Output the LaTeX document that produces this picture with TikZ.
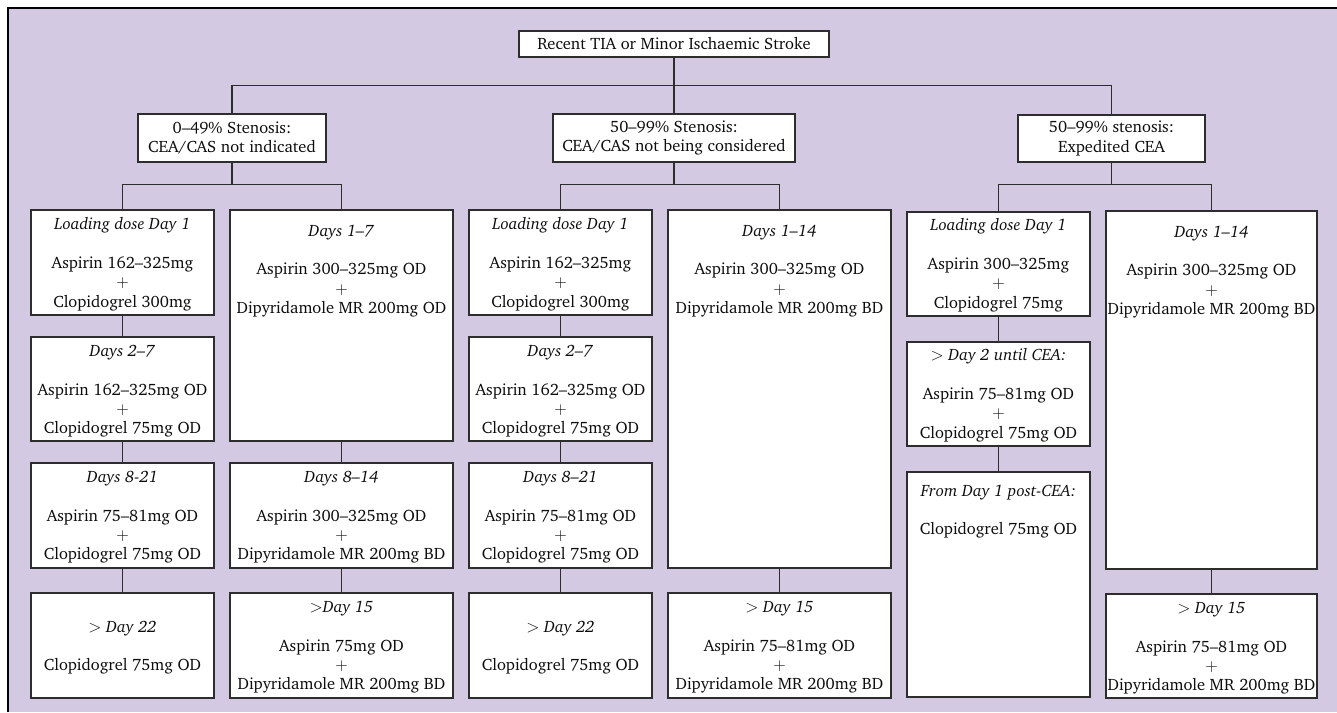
\documentclass[tikz,border=0pt]{standalone}
\usepackage[T1]{fontenc}
\usepackage{charter}
\definecolor{lav}{RGB}{211,201,227}
\definecolor{ink}{RGB}{45,45,45}
\tikzset{
  bx/.style={draw=ink, fill=white, line width=1.4pt, inner sep=0pt,
    font=\fontsize{16.5}{19.4}\selectfont, text=black!95},
  conn/.style={draw=ink, line width=1.4pt},
  frame/.style={draw=black, line width=2pt}
}
\newcommand\bx[7]{\node[bx] (#1) at (#2,#3) {\parbox[c][#5pt][t]{#4pt}{\centering\vspace*{#6pt}\rule{0pt}{12pt}#7}};}
\newcommand\hb[6]{\node[bx] (#1) at (#2,#3) {\parbox[c][#5pt][c]{#4pt}{\centering #6}};}
\begin{document}
\begin{tikzpicture}[x=1pt,y=-1pt]
\useasboundingbox (0,0) rectangle (1337,712);
\fill[lav] (7.7,7.7) rectangle (1337,712);
\draw[frame] (7.7,712) -- (7.7,7.7) -- (1337,7.7);

% level 0 and 1
\hb{top}{674}{44}{310}{26}{Recent TIA or Minor Ischaemic Stroke}
\hb{b1}{232}{138}{188}{48}{0--49\% Stenosis:\\CEA/CAS not indicated}
\hb{b2}{674}{138}{242}{48}{50--99\% Stenosis:\\CEA/CAS not being considered}
\hb{b3}{1111.5}{138.5}{187}{47}{50--99\% stenosis:\\Expedited CEA}

% column 1
\bx{A1}{122.5}{262.5}{183}{105}{7.3}{\textit{Loading dose Day 1}\\[19.4pt]Aspirin 162--325mg\\$+$\\Clopidogrel 300mg}
\bx{A2}{122.5}{389}{183}{104}{7.3}{\textit{Days 2--7}\\[19.4pt]Aspirin 162--325mg OD\\$+$\\Clopidogrel 75mg OD}
\bx{A3}{122.5}{515.5}{183}{105}{7.3}{\textit{Days 8-21}\\[19.4pt]Aspirin 75--81mg OD\\$+$\\Clopidogrel 75mg OD}
\bx{A4}{122.5}{645.5}{183}{105}{27}{$>$ \textit{Day 22}\\[19.4pt]Clopidogrel 75mg OD}
\bx{B1}{341.5}{325.5}{223}{231}{14}{\textit{Days 1--7}\\[19.4pt]Aspirin 300--325mg OD\\$+$\\Dipyridamole MR 200mg OD}
\bx{B2}{341.5}{515.5}{223}{105}{7.3}{\textit{Days 8--14}\\[19.4pt]Aspirin 300--325mg OD\\$+$\\Dipyridamole MR 200mg BD}
\bx{B3}{341.5}{645.5}{223}{105}{7.3}{$>$\textit{Day 15}\\[19.4pt]Aspirin 75mg OD\\$+$\\Dipyridamole MR 200mg BD}

% column 2
\bx{C1}{560.5}{262.5}{183}{105}{7.3}{\textit{Loading dose Day 1}\\[19.4pt]Aspirin 162--325mg\\$+$\\Clopidogrel 300mg}
\bx{C2}{560.5}{389}{183}{104}{7.3}{\textit{Days 2--7}\\[19.4pt]Aspirin 162--325mg OD\\$+$\\Clopidogrel 75mg OD}
\bx{C3}{560.5}{515.5}{183}{105}{7.3}{\textit{Days 8--21}\\[19.4pt]Aspirin 75--81mg OD\\$+$\\Clopidogrel 75mg OD}
\bx{C4}{560.5}{645.5}{183}{105}{27}{$>$ \textit{Day 22}\\[19.4pt]Clopidogrel 75mg OD}
\bx{D1}{779.5}{389}{223}{358}{14}{\textit{Days 1--14}\\[19.4pt]Aspirin 300--325mg OD\\$+$\\Dipyridamole MR 200mg BD}
\bx{D2}{779.5}{645.5}{223}{105}{7.3}{$>$ \textit{Day 15}\\[19.4pt]Aspirin 75--81mg OD\\$+$\\Dipyridamole MR 200mg BD}

% column 3
\bx{E1}{998.5}{264}{183}{104}{6.3}{\textit{Loading dose Day 1}\\[19.4pt]Aspirin 300--325mg\\$+$\\Clopidogrel 75mg}
\bx{E2}{998.5}{394}{183}{104}{6.3}{$>$ \textit{Day 2 until CEA:}\\[19.4pt]Aspirin 75--81mg OD\\$+$\\Clopidogrel 75mg OD}
\bx{E3}{998.5}{584.5}{183}{225}{12}{\textit{From Day 1 post-CEA:}\\[19.4pt]Clopidogrel 75mg OD}
\bx{F1}{1211.5}{390}{211}{358}{14}{\textit{Days 1--14}\\[19.4pt]Aspirin 300--325mg OD\\$+$\\Dipyridamole MR 200mg BD}
\bx{F2}{1211.5}{646}{211}{104}{7.3}{$>$ \textit{Day 15}\\[19.4pt]Aspirin 75--81mg OD\\$+$\\Dipyridamole MR 200mg BD}

% connectors
\draw[conn] (top.south) -- (b2.north);
\draw[conn] (b1.north) -- ++(0,-28) -| (b3.north);
\draw[conn] (A1.north) -- ++(0,-25) coordinate (hA) -| (B1.north);
\draw[conn] (b1.south) -- (b1.south |- hA);
\draw[conn] (C1.north) -- ++(0,-25) coordinate (hC) -| (D1.north);
\draw[conn] (b2.south) -- (b2.south |- hC);
\draw[conn] (E1.north) -- ++(0,-27) coordinate (hE) -| (F1.north);
\draw[conn] (b3.south) -- (b3.south |- hE);
\draw[conn] (A1.south) -- (A2.north);
\draw[conn] (A2.south) -- (A3.north);
\draw[conn] (A3.south) -- (A4.north);
\draw[conn] (B1.south) -- (B2.north);
\draw[conn] (B2.south) -- (B3.north);
\draw[conn] (C1.south) -- (C2.north);
\draw[conn] (C2.south) -- (C3.north);
\draw[conn] (C3.south) -- (C4.north);
\draw[conn] (D1.south) -- (D2.north);
\draw[conn] (E1.south) -- (E2.north);
\draw[conn] (E2.south) -- (E3.north);
\draw[conn] (F1.south) -- (F2.north);
\end{tikzpicture}
\end{document}
